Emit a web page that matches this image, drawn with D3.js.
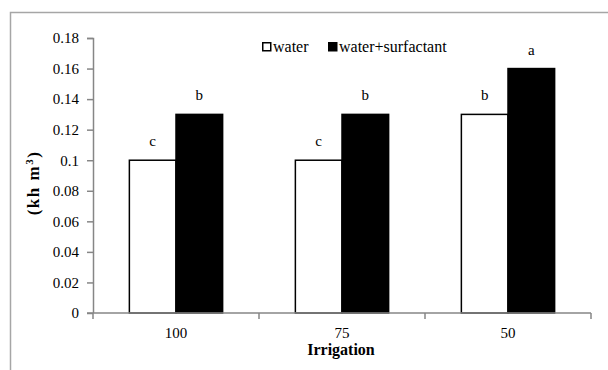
<!DOCTYPE html>
<html>
<head>
<meta charset="utf-8">
<script src="https://cdn.jsdelivr.net/npm/d3@7"></script>
<style>
  body { margin: 0; background: #fff; }
  svg text { fill: #000; }
</style>
</head>
<body>
<div id="canvas"></div>
<script>
const categories = ["100", "75", "50"];
const series = ["water", "water+surfactant"];
const water = [0.10, 0.10, 0.13];
const surfactant = [0.13, 0.13, 0.16];
const waterLetters = ["c", "c", "b"];
const surfLetters = ["b", "b", "a"];
const yTicks = [0, 0.02, 0.04, 0.06, 0.08, 0.1, 0.12, 0.14, 0.16, 0.18];

const width = 608;
const height = 370;
const margin = { top: 38, left: 93, bottom: 57, right: 17 };
const iwidth = width - margin.left - margin.right;
const iheight = height - margin.top - margin.bottom;
const serif = "'Times New Roman', 'Liberation Serif', 'DejaVu Serif', serif";

const svg = d3.select("#canvas").append("svg")
  .attr("width", width)
  .attr("height", height)
  .style("font-family", serif);

// chart area frame (cropped on right/bottom)
svg.append("path")
  .attr("d", `M10.5,${height} V12.5 H${width}`)
  .attr("fill", "none")
  .attr("stroke", "#a6a6a6")
  .attr("stroke-width", 1.5);

const g = svg.append("g").attr("transform", `translate(${margin.left},${margin.top})`);

const x = d3.scaleBand().domain(categories).range([0, iwidth]);
const x1 = d3.scaleBand().domain(series).range([0, x.bandwidth()]).paddingOuter(0.78);
const y = d3.scaleLinear().domain([0, 0.18]).range([iheight, 0]);

const data = categories.map((c, i) => ({
  cat: c,
  vals: [
    { s: series[0], v: water[i], letter: waterLetters[i] },
    { s: series[1], v: surfactant[i], letter: surfLetters[i] }
  ]
}));

const groups = g.selectAll(".grp").data(data).enter().append("g")
  .attr("transform", d => `translate(${x(d.cat)},0)`);

groups.selectAll("rect").data(d => d.vals).enter().append("rect")
  .attr("x", d => x1(d.s))
  .attr("y", d => y(d.v))
  .attr("width", x1.bandwidth())
  .attr("height", d => iheight - y(d.v))
  .attr("fill", d => d.s === series[0] ? "#fff" : "#000")
  .attr("stroke", "#000")
  .attr("stroke-width", 1.5);

groups.selectAll(".lbl").data(d => d.vals).enter().append("text")
  .attr("x", d => x1(d.s) + x1.bandwidth() / 2)
  .attr("y", d => y(d.v) - 14)
  .attr("text-anchor", "middle")
  .style("font-family", serif)
  .attr("font-size", 15)
  .text(d => d.letter);

// y axis
const yAxis = g.append("g")
  .call(d3.axisLeft(y).tickValues(yTicks).tickSize(6).tickPadding(8).tickFormat(d => String(+d.toFixed(2))))
  .attr("font-size", 15);
yAxis.attr("font-family", null);
yAxis.select(".domain").attr("stroke", "#868686").attr("stroke-width", 1.5).attr("d", `M0.5,${iheight}V0.5H-6`);
yAxis.selectAll("line").attr("stroke", "#868686").attr("stroke-width", 1.5);
yAxis.selectAll("text").attr("fill", "#000").style("font-family", serif);

// x axis with ticks at category boundaries
const xAxis = g.append("g").attr("transform", `translate(0,${iheight})`);
xAxis.append("line")
  .attr("x1", -6).attr("x2", iwidth)
  .attr("stroke", "#868686").attr("stroke-width", 1.5);
xAxis.selectAll(".tk").data(categories).enter().append("line")
  .attr("x1", d => x(d) + x.bandwidth()).attr("x2", d => x(d) + x.bandwidth())
  .attr("y1", 0).attr("y2", 6)
  .attr("stroke", "#868686").attr("stroke-width", 1.5);
xAxis.append("line")
  .attr("x1", 0).attr("x2", 0).attr("y1", 0).attr("y2", 6)
  .attr("stroke", "#868686").attr("stroke-width", 1.5);
xAxis.selectAll(".cl").data(categories).enter().append("text")
  .attr("x", d => x(d) + x.bandwidth() / 2)
  .attr("y", 25)
  .attr("text-anchor", "middle")
  .style("font-family", serif)
  .attr("font-size", 15)
  .text(d => d);

// axis titles
svg.append("text")
  .attr("x", 341)
  .attr("y", 355)
  .attr("text-anchor", "middle")
  .style("font-family", serif)
  .attr("font-size", 16)
  .attr("font-weight", "bold")
  .text("Irrigation");

const yt = svg.append("text")
  .attr("transform", "translate(39,183) rotate(-90)")
  .attr("text-anchor", "middle")
  .style("font-family", serif)
  .attr("font-size", 17)
  .attr("font-weight", "bold")
  .attr("letter-spacing", 1.5);
yt.append("tspan").text("(kh m");
yt.append("tspan").attr("dy", -6).attr("font-size", 11).text("3");
yt.append("tspan").attr("dy", 6).text(")");

// legend
const legend = svg.append("g").attr("transform", "translate(262,42)");
const items = [{ s: series[0], x: 0 }, { s: series[1], x: 66 }];
const li = legend.selectAll("g").data(items).enter().append("g")
  .attr("transform", d => `translate(${d.x},0)`);
li.append("rect")
  .attr("x", 0.75).attr("y", 0.75).attr("width", 8).attr("height", 8)
  .attr("fill", (d, i) => i === 0 ? "#fff" : "#000")
  .attr("stroke", "#000").attr("stroke-width", 1.5);
li.append("text")
  .attr("x", 11).attr("y", 10)
  .style("font-family", serif)
  .attr("font-size", 16)
  .text(d => d.s);
</script>
</body>
</html>
